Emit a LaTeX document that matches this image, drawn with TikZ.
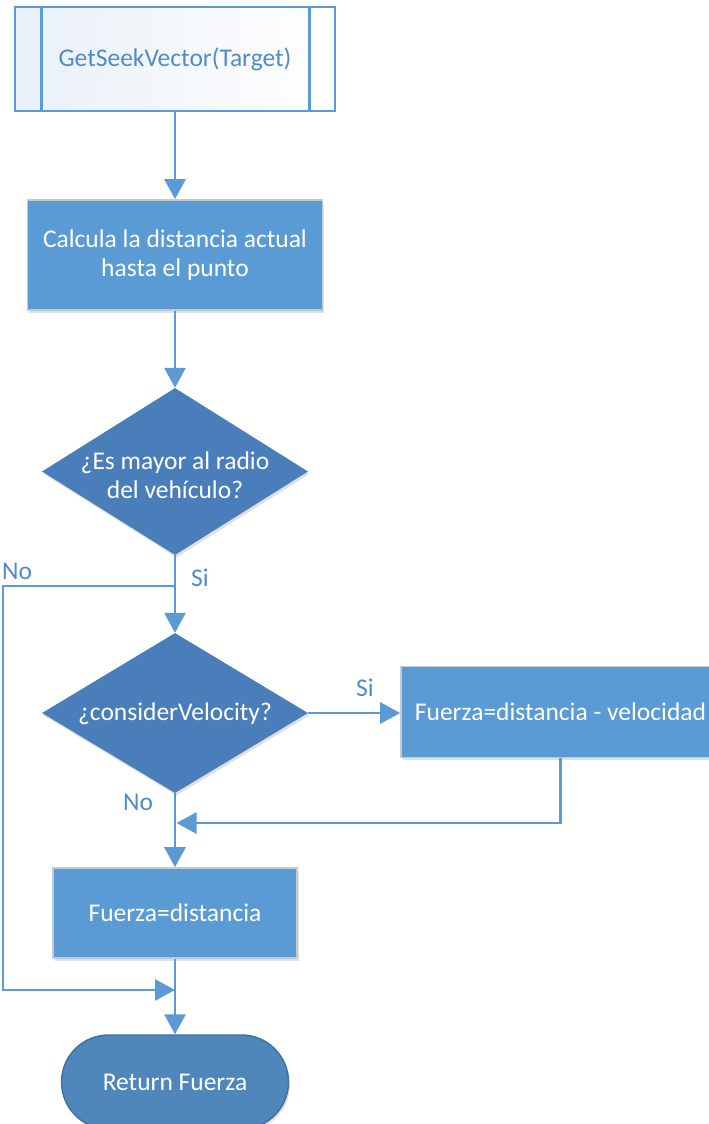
\documentclass[tikz,border=0pt]{standalone}
\usepackage{fontspec}
\setmainfont{Carlito}
\usetikzlibrary{arrows.meta,shapes.geometric,shapes.misc,shadows}

\definecolor{flowblue}{HTML}{5B9BD5}
\definecolor{decblue}{HTML}{4A7EBB}
\definecolor{termblue}{HTML}{4F87BC}
\definecolor{termedge}{HTML}{41719C}
\definecolor{boxedge}{HTML}{C3CAD2}
\definecolor{textblue}{HTML}{4F8CC9}
\definecolor{subshade}{HTML}{E9F0F8}

\tikzset{
  every node/.style={font=\fontsize{25.5}{29}\selectfont, inner sep=0pt},
  softshadow/.style={drop shadow={shadow xshift=1.5pt, shadow yshift=-2.5pt, opacity=0.12, fill=black}},
  subbox/.style={rectangle, draw=flowblue, line width=2.6pt, left color=subshade, right color=white, text=textblue, align=center},
  subline/.style={draw=flowblue, line width=2.6pt},
  procbox/.style={rectangle, fill=flowblue, draw=boxedge, line width=1.6pt, text=white, align=center, softshadow},
  decision/.style={diamond, fill=decblue, draw=none, softshadow},
  dectext/.style={text=white, align=center},
  terminal/.style={rounded rectangle, fill=termblue, draw=termedge, line width=1.4pt, text=white, softshadow},
  flow/.style={draw=flowblue, line width=2.8pt, -{Triangle[length=20pt,width=21pt]}},
  lbl/.style={text=textblue, align=center}
}

\begin{document}
\begin{tikzpicture}[x=1pt,y=-1pt]
  \useasboundingbox (0,0) rectangle (709,1124);

  % subroutine call at the top
  \node[subbox, minimum width=320pt, minimum height=104pt] (start) at (175,59) {GetSeekVector(Target)};
  \draw[subline] ([xshift=28pt]start.north west) -- ([xshift=28pt]start.south west);
  \draw[subline] ([xshift=-27pt]start.north east) -- ([xshift=-27pt]start.south east);

  % distance computation
  \node[procbox, minimum width=295pt, minimum height=110pt] (calc) at (175,255) {Calcula la distancia actual\\hasta el punto};

  % first decision
  \node[decision, minimum width=266pt, minimum height=167pt] (d1) at (175,471.5) {};
  \node[dectext] (d1t) at (175,475) {¿Es mayor al radio\\del vehículo?};

  % second decision
  \node[decision, minimum width=266pt, minimum height=160pt] (d2) at (175,713) {};
  \node[dectext] (d2t) at (175,714) {¿considerVelocity?};

  % force with velocity
  \node[procbox, minimum width=319pt, minimum height=91pt] (b3) at (560.5,712) {Fuerza=distancia - velocidad};

  % plain force
  \node[procbox, minimum width=244pt, minimum height=90pt] (b4) at (175,913) {Fuerza=distancia};

  % return terminal
  \node[terminal, minimum width=227pt, minimum height=94pt] (ret) at (175,1082) {Return Fuerza};

  % junction points
  \coordinate (j1) at (175,586);
  \coordinate (nl1) at (3,586);
  \coordinate (nl2) at (3,990);
  \coordinate (j2) at (175,990);
  \coordinate (j3) at (176.5,823);

  % connectors
  \draw[flow] (start) -- (calc);
  \draw[flow] (calc) -- (d1);
  \draw[flow] (d1) -- (d2);
  \draw[flow] (j1) -- (nl1) -- (nl2) -- (j2);
  \draw[flow] (d2.east) -- (d2.east -| b3.west);
  \draw[flow] (b3.south) |- (j3);
  \draw[flow] (d2) -- (b4);
  \draw[flow] (b4) -- (ret);

  % branch labels
  \node[lbl] (lno1) at (17,571) {No};
  \node[lbl] (lsi1) at (200,578) {Si};
  \node[lbl] (lsi2) at (365,688) {Si};
  \node[lbl] (lno2) at (138,802) {No};
\end{tikzpicture}
\end{document}
